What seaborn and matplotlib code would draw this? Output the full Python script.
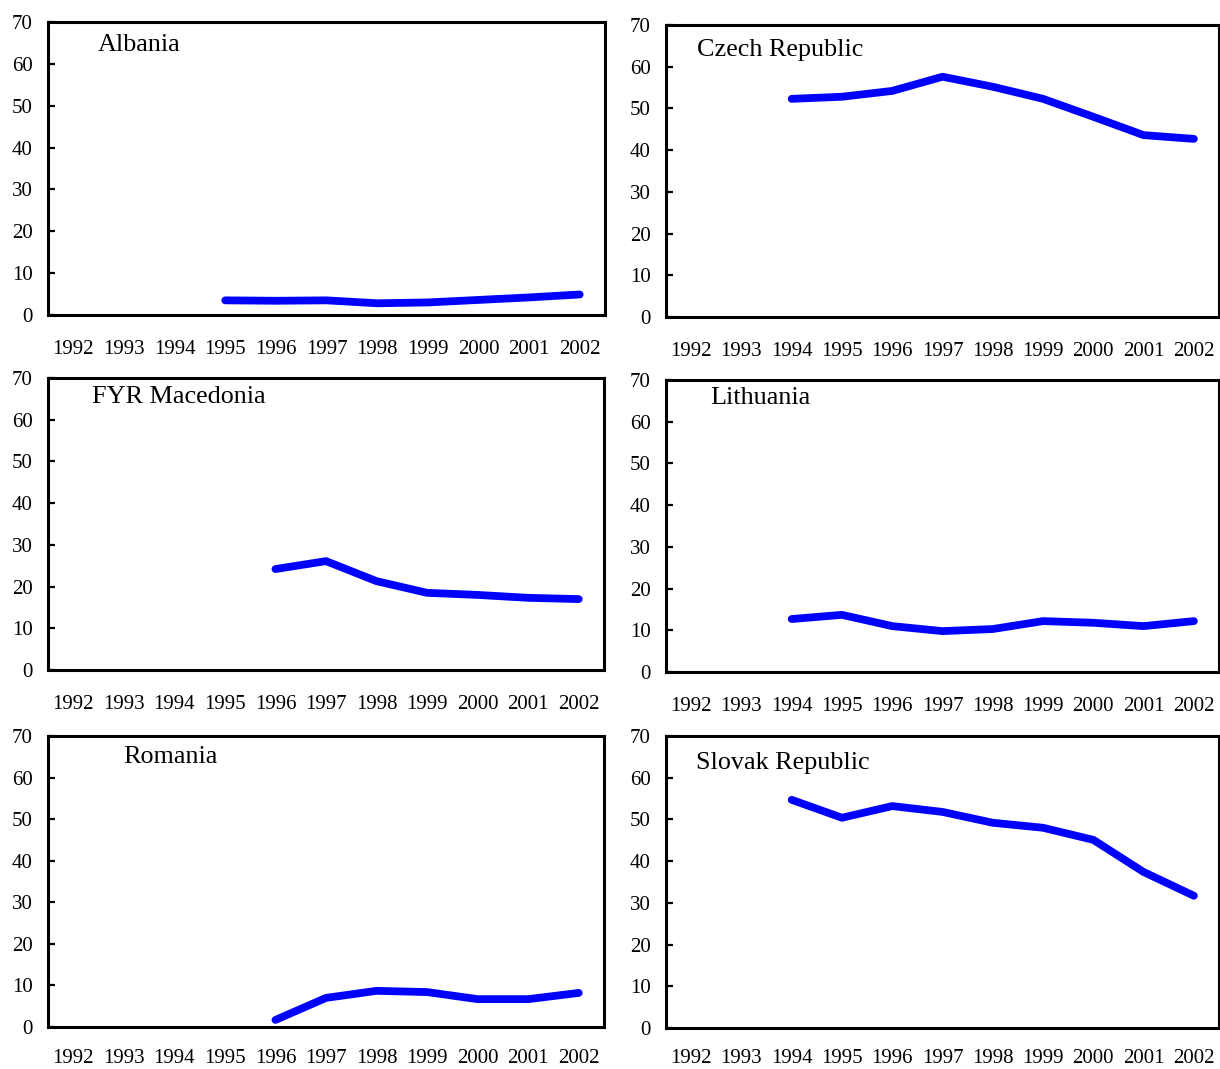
import numpy as np
import pandas as pd
import matplotlib
matplotlib.use("Agg")
import matplotlib.pyplot as plt
import seaborn as sns

sns.set_theme(style="white")
plt.rcParams["font.family"] = ["Liberation Serif", "DejaVu Serif"]

years = ["1992", "1993", "1994", "1995", "1996", "1997", "1998", "1999", "2000", "2001", "2002"]

albania_years = ["1995", "1996", "1997", "1998", "1999", "2000", "2001", "2002"]
albania = [3.5, 3.4, 3.5, 2.8, 3.0, 3.6, 4.2, 4.9]

czech_years = ["1994", "1995", "1996", "1997", "1998", "1999", "2000", "2001", "2002"]
czech = [52.3, 52.8, 54.2, 57.6, 55.2, 52.3, 48.0, 43.6, 42.7]

macedonia_years = ["1996", "1997", "1998", "1999", "2000", "2001", "2002"]
macedonia = [24.2, 26.1, 21.3, 18.5, 18.0, 17.3, 17.0]

lithuania_years = ["1994", "1995", "1996", "1997", "1998", "1999", "2000", "2001", "2002"]
lithuania = [12.7, 13.7, 11.0, 9.8, 10.3, 12.2, 11.8, 11.0, 12.2]

romania_years = ["1996", "1997", "1998", "1999", "2000", "2001", "2002"]
romania = [1.7, 7.0, 8.7, 8.4, 6.7, 6.7, 8.2]

slovak_years = ["1994", "1995", "1996", "1997", "1998", "1999", "2000", "2001", "2002"]
slovak = [54.7, 50.4, 53.2, 51.8, 49.2, 48.0, 45.1, 37.4, 31.7]

countries = ["Albania", "Czech Republic", "FYR Macedonia", "Lithuania", "Romania", "Slovak Republic"]
series_years = [albania_years, czech_years, macedonia_years, lithuania_years, romania_years, slovak_years]
series_vals = [albania, czech, macedonia, lithuania, romania, slovak]

W, H = 1220, 1069
fig = plt.figure(figsize=(W / 100, H / 100), dpi=100)

# panel boxes in pixels: left, right, top, bottom
boxes = [
    (48, 605, 22, 315),
    (666, 1219, 25, 317),
    (48, 604, 378, 670),
    (666, 1219, 380, 672),
    (48, 604, 736, 1027),
    (666, 1219, 736, 1028),
]
# country name placement (axes fraction)
name_pos = [(0.09, 0.92), (0.056, 0.914), (0.079, 0.935), (0.08, 0.938), (0.135, 0.928), (0.054, 0.908)]
# year label distance from the bottom spine (bottom row sits close to the figure edge)
label_pads = [18, 18, 18, 18, 15.5, 15]

for name, yrs, vals, (l, r, t, b), (tx, ty), pad in zip(countries, series_years, series_vals,
                                                          boxes, name_pos, label_pads):
    ax = fig.add_axes([l / W, 1 - b / H, (r - l) / W, (b - t) / H])
    df = pd.DataFrame({"pos": [years.index(y) for y in yrs], "value": vals})
    sns.lineplot(data=df, x="pos", y="value", ax=ax, color="#0000FF",
                 linewidth=5.6, solid_capstyle="round", solid_joinstyle="round")
    ax.set_xlim(-0.5, len(years) - 0.5)
    ax.set_ylim(0, 70)
    ax.set_yticks(np.arange(0, 71, 10))
    ax.set_xticks(np.arange(0.5, len(years) - 0.5, 1))
    ax.set_xticklabels([])
    ax.set_xticks(np.arange(len(years)), minor=True)
    ax.set_xticklabels(years, minor=True)
    ax.tick_params(axis="x", which="major", direction="in", length=5, width=1.6, color="black")
    ax.tick_params(axis="x", which="minor", length=0, pad=pad, labelsize=15, labelcolor="black")
    ax.tick_params(axis="y", direction="in", length=5, width=1.6, color="black", pad=11,
                   labelsize=15, labelcolor="black", left=True)
    ax.set_xlabel("")
    ax.set_ylabel("")
    for s in ax.spines.values():
        s.set_color("black")
        s.set_linewidth(2.2)
        s.set_visible(True)
    ax.text(tx, ty, name, transform=ax.transAxes, fontsize=18.8, ha="left", va="center", color="black")

fig.savefig("out.png", dpi=100)
